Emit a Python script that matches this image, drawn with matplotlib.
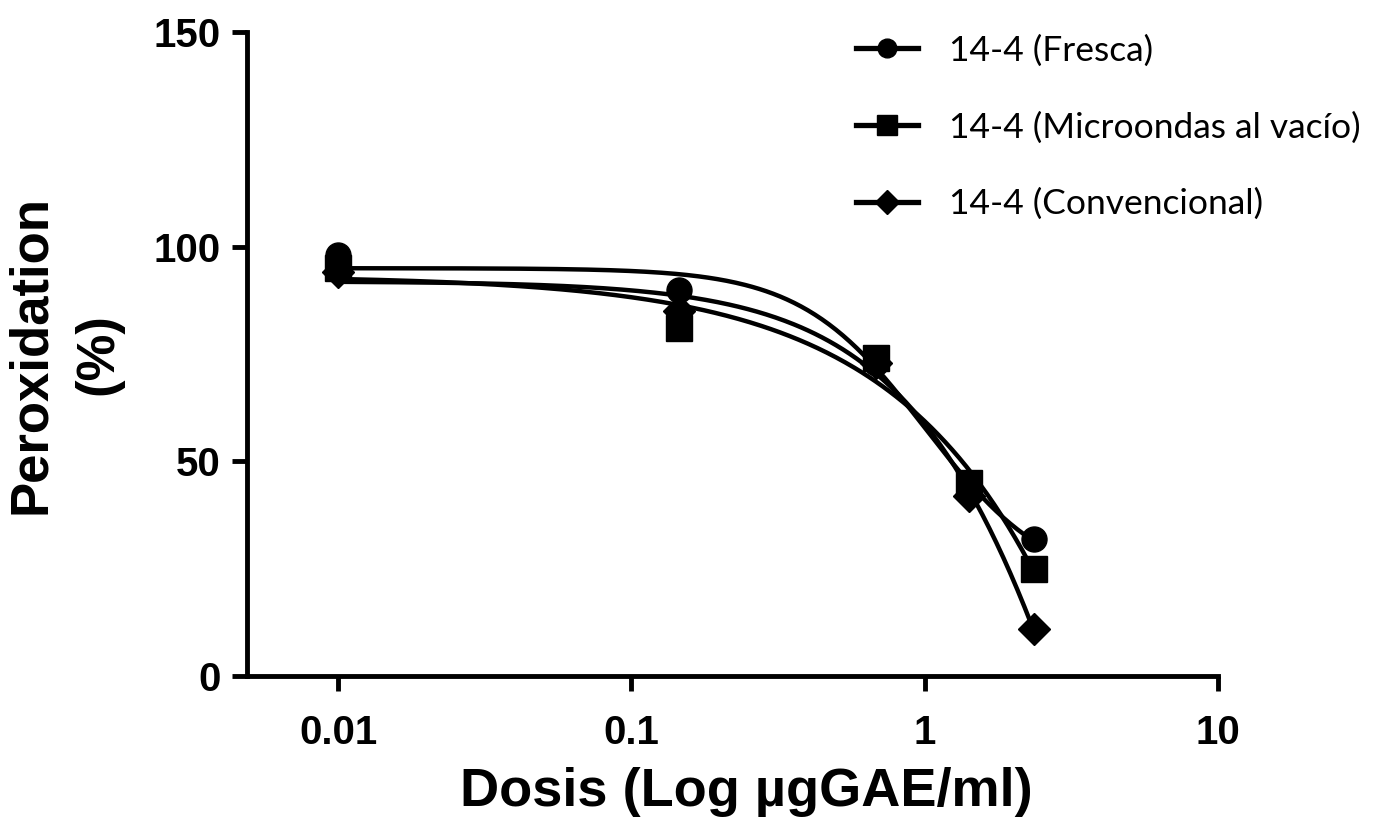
import numpy as np
import matplotlib.pyplot as plt
from matplotlib.ticker import FixedLocator, FixedFormatter, NullLocator

plt.rcParams['font.family'] = ['Liberation Sans', 'DejaVu Sans']

# Datos
dosis = [0.01, 0.145, 0.68, 1.41, 2.35]
fresca = [98, 90, 73, 44, 32]
microondas = [95, 81, 74, 45, 25]
convencional = [94, 85, 73, 42, 11]

etiquetas = ['14-4 (Fresca)', '14-4 (Microondas al vacío)', '14-4 (Convencional)']
marcadores = ['o', 's', 'D']
tam_marcador = [18, 19, 16.5]

x_ticks = [0.01, 0.1, 1, 10]
x_ticklabels = ['0.01', '0.1', '1', '10']
y_ticks = [0, 50, 100, 150]


def logistica(p, lx):
    top, bottom, logec50, hill = p
    return bottom + (top - bottom) / (1 + 10 ** ((lx - logec50) * hill))


# Ajuste sigmoidal (4 parametros) con Levenberg-Marquardt sencillo
def ajustar(x, y):
    lx = np.log10(x)
    y = np.asarray(y, float)
    p = np.array([y.max(), y.min(), 0.0, 1.5])
    lam = 1e-2
    for _ in range(500):
        r = y - logistica(p, lx)
        J = np.zeros((len(lx), 4))
        for k in range(4):
            dp = np.zeros(4)
            dp[k] = 1e-6
            J[:, k] = (logistica(p + dp, lx) - logistica(p - dp, lx)) / 2e-6
        A = J.T @ J
        step = np.linalg.solve(A + lam * np.diag(np.diag(A) + 1e-9), J.T @ r)
        pn = p + step
        if np.sum((y - logistica(pn, lx)) ** 2) < np.sum(r ** 2):
            p = pn
            lam *= 0.5
        else:
            lam *= 4
    return p


fig = plt.figure(figsize=(13.89, 8.32), dpi=100)
ax = fig.add_axes([0.178, 0.1875, 0.699, 0.774])

xs = np.logspace(np.log10(dosis[0]), np.log10(dosis[-1]), 300)
for serie, m, ms, lab in zip([fresca, microondas, convencional], marcadores, tam_marcador, etiquetas):
    p = ajustar(dosis, serie)
    ax.plot(xs, logistica(p, np.log10(xs)), color='black', lw=3.2)
    ax.plot(dosis, serie, linestyle='none', marker=m, ms=ms, color='black')
    ax.plot([], [], color='black', lw=3.8, marker=m, ms=ms * 0.75, label=lab)

ax.set_xscale('log')
ax.set_xlim(0.0049, 10)
ax.set_ylim(0, 150)
ax.xaxis.set_major_locator(FixedLocator(x_ticks))
ax.xaxis.set_major_formatter(FixedFormatter(x_ticklabels))
ax.xaxis.set_minor_locator(NullLocator())
ax.set_yticks(y_ticks)

for s in ['top', 'right']:
    ax.spines[s].set_visible(False)
for s in ['left', 'bottom']:
    ax.spines[s].set_linewidth(3.5)
ax.tick_params(axis='both', length=11, width=3.5, labelsize=29)
ax.tick_params(axis='x', pad=16)
ax.tick_params(axis='y', pad=8)
for t in ax.get_xticklabels() + ax.get_yticklabels():
    t.set_fontweight('bold')

ax.set_xlabel('Dosis (Log µgGAE/ml)', fontsize=39, fontweight='bold', labelpad=11)
ax.xaxis.label.set_x(0.514)
ax.set_ylabel('Peroxidation\n(%)', fontsize=38, fontweight='bold', labelpad=22, linespacing=1.45)

leg = ax.legend(loc='upper left', bbox_to_anchor=(0.612, 1.018), frameon=False,
                prop={'family': 'Lato', 'size': 25.5}, handlelength=1.75,
                labelspacing=1.25, handletextpad=0.9, borderaxespad=0)

fig.savefig('out.png', dpi=100)
